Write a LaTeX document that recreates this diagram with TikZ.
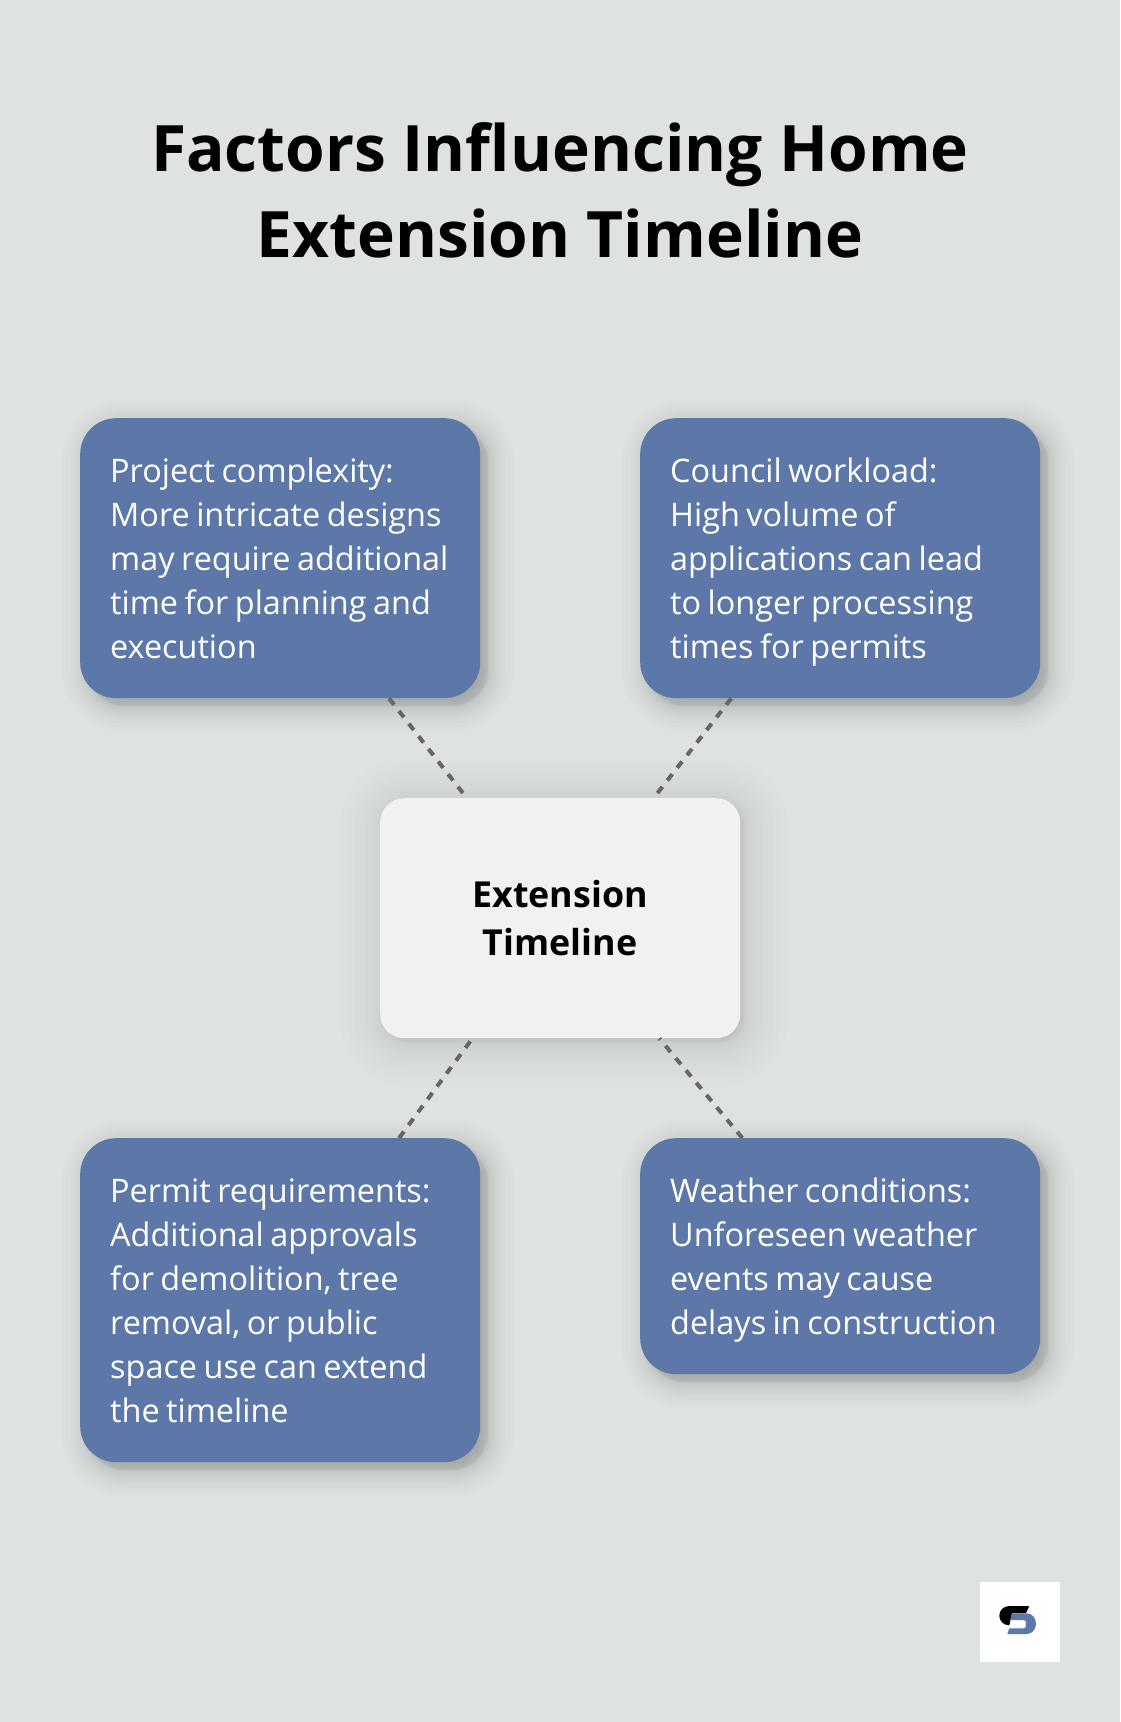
\documentclass[tikz,border=0pt]{standalone}
\usepackage{fontspec}
\setmainfont{Open Sans}
\definecolor{pagebg}{HTML}{DEE2E1}
\definecolor{factorblue}{HTML}{5D78A8}
\definecolor{hubfill}{HTML}{F0F2F1}
\definecolor{linkgray}{HTML}{666666}
\newcommand{\linestrut}{\vrule height 33.8pt depth 10.2pt width 0pt\relax}
\newcommand{\tightlines}{\spaceskip=6.5pt\relax\hyphenpenalty=10000\relax\linestrut}
\tikzset{
    factor/.style={fill=factorblue, text=white, rounded corners=36pt, minimum width=400pt, text width=340pt, inner xsep=30pt, inner ysep=0pt, anchor=north west, align=left, font=\fontsize{32.4}{44}\selectfont, execute at begin node=\tightlines, execute at end node=\linestrut},
    hub/.style={fill=hubfill, text=black, rounded corners=24pt, minimum width=360pt, minimum height=240pt, anchor=north west, align=center, font=\fontsize{35.8}{47.5}\selectfont\bfseries},
    link/.style={draw=linkgray, line width=4pt, dash pattern=on 8pt off 8pt},
}
% soft shadow: stack of faint rounded boxes
% {x0}{y0}{x1}{y1}{radius}{offset}{half blur}{opacity}
\NewDocumentCommand{\softshadow}{mmmmmmmm}{%
\foreach \g in {0,1,...,23} {%
\pgfmathsetmacro{\tval}{1-\g/11.5}%
\pgfmathsetmacro{\dval}{#7*\tval*abs(\tval)}%
\pgfmathsetmacro{\rval}{max(#5+\dval,4)}%
\fill[black, opacity=#8, rounded corners=\rval pt] (#1+#6-\dval,#2+#6-\dval) rectangle (#3+#6+\dval,#4+#6+\dval);%
}%
}
\begin{document}
\begin{tikzpicture}[x=1pt,y=-1pt]
    \useasboundingbox[fill=pagebg] (0,0) rectangle (1120,1722);

    % title
    \node[align=center, font=\fontsize{64}{86}\selectfont\bfseries] (heading) at (560,190) {Factors Influencing Home\\Extension Timeline};

    % shadows
    \softshadow{80}{418}{480}{698}{36}{8}{26}{0.013}
    \softshadow{640}{418}{1040}{698}{36}{8}{26}{0.013}
    \softshadow{80}{1138}{480}{1462}{36}{8}{26}{0.013}
    \softshadow{640}{1138}{1040}{1374}{36}{8}{26}{0.013}
    \softshadow{380}{798}{740}{1038}{24}{4}{44}{0.009}

    % boxes
    \node[factor, minimum height=280pt] (project) at (80,418) {Project complexity:\\More intricate designs\\may require additional\\time for planning and\\execution};
    \node[factor, minimum height=280pt] (council) at (640,418) {Council workload:\\High volume of\\applications can lead\\to longer processing\\times for permits};
    \node[factor, minimum height=324pt] (permit) at (80,1138) {Permit requirements:\\Additional approvals\\for demolition, tree\\removal, or public\\space use can extend\\the timeline};
    \node[factor, minimum height=236pt] (weather) at (640,1138) {Weather conditions:\\Unforeseen weather\\events may cause\\delays in construction};
    \node[hub] (timeline) at (380,798) {Extension\\Timeline};

    % links
    \draw[link] (project) -- (timeline);
    \draw[link] (council) -- (timeline);
    \draw[link] (permit) -- (timeline);
    \draw[link] (weather) -- (timeline);

    % logo
    \fill[white] (980,1582) rectangle (1060,1662);
    \fill[black] (1029.3,1606) -- (1009.3,1606) .. controls (1003.5,1606) and (999.3,1610.5) .. (999.3,1615.7) .. controls (999.3,1621) and (1003.5,1625.3) .. (1009.3,1625.3) -- (1012,1613) -- (1026,1613) -- cycle;
    \fill[factorblue] (1012.3,1613.3) -- (1026.7,1613.3) .. controls (1032,1613.3) and (1036,1618) .. (1036,1623.7) .. controls (1036,1629.5) and (1032,1634) .. (1026.7,1634) -- (1007.3,1634) -- (1009.3,1628.3) -- (1024,1628.3) .. controls (1027,1628.3) and (1027,1620) .. (1024,1620) -- (1010,1620) -- cycle;
\end{tikzpicture}
\end{document}
